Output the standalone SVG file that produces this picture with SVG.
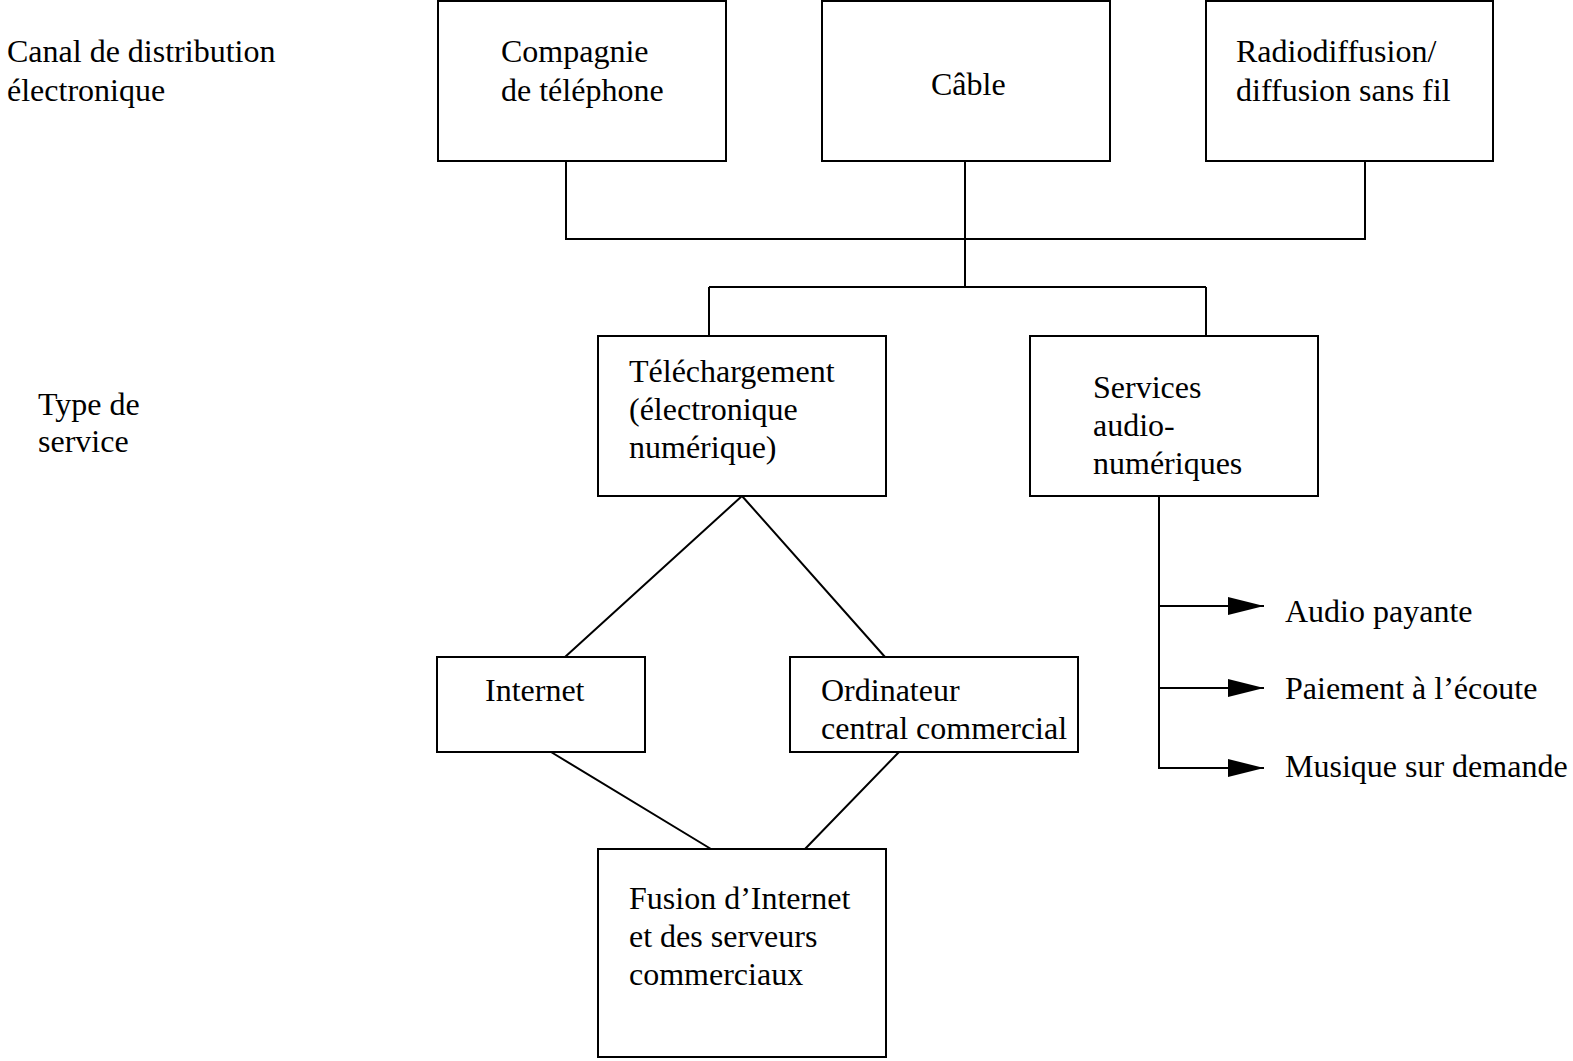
<svg xmlns="http://www.w3.org/2000/svg" width="1573" height="1061" viewBox="0 0 1573 1061">
<style>
.box{fill:#fff;stroke:#000;stroke-width:2}
.ln{fill:none;stroke:#000;stroke-width:2}
text{font-family:"Liberation Serif","Times New Roman",serif;font-size:32px;fill:#000}
</style>
<defs>
<marker id="ah" markerWidth="36" markerHeight="20" refX="36" refY="10" orient="auto" markerUnits="userSpaceOnUse">
<path d="M0,1 L36,10 L0,19 Z" fill="#000"/>
</marker>
</defs>
<rect width="1573" height="1061" fill="#fff"/>
<g id="labels">
<text x="7" y="62">Canal de distribution</text>
<text x="7" y="101">électronique</text>
<text x="38" y="415">Type de</text>
<text x="38" y="452">service</text>
</g>
<g id="connectors">
<path class="ln" d="M566,161 V240 M1365,161 V240 M566,239 H1365 M965,161 V288 M709,287 H1206 M709,287 V336 M1206,287 V336"/>
<path class="ln" d="M742,496 L565,657 M742,496 L885,657 M551,752 L711,849 M899,752 L805,849"/>
<path class="ln" d="M1159,496 V769"/>
<path class="ln" d="M1159,606 H1264" marker-end="url(#ah)"/>
<path class="ln" d="M1159,688 H1264" marker-end="url(#ah)"/>
<path class="ln" d="M1159,768 H1264" marker-end="url(#ah)"/>
</g>
<g id="node-compagnie">
<rect class="box" x="438" y="1" width="288" height="160"/>
<text x="501" y="62">Compagnie</text>
<text x="501" y="101">de téléphone</text>
</g>
<g id="node-cable">
<rect class="box" x="822" y="1" width="288" height="160"/>
<text x="931" y="95">Câble</text>
</g>
<g id="node-radio">
<rect class="box" x="1206" y="1" width="287" height="160"/>
<text x="1236" y="62">Radiodiffusion/</text>
<text x="1236" y="101">diffusion sans fil</text>
</g>
<g id="node-telechargement">
<rect class="box" x="598" y="336" width="288" height="160"/>
<text x="629" y="382">Téléchargement</text>
<text x="629" y="420">(électronique</text>
<text x="629" y="458">numérique)</text>
</g>
<g id="node-services">
<rect class="box" x="1030" y="336" width="288" height="160"/>
<text x="1093" y="398">Services</text>
<text x="1093" y="436">audio-</text>
<text x="1093" y="474">numériques</text>
</g>
<g id="node-internet">
<rect class="box" x="437" y="657" width="208" height="95"/>
<text x="485" y="701">Internet</text>
</g>
<g id="node-ordinateur">
<rect class="box" x="790" y="657" width="288" height="95"/>
<text x="821" y="701">Ordinateur</text>
<text x="821" y="739">central commercial</text>
</g>
<g id="node-fusion">
<rect class="box" x="598" y="849" width="288" height="208"/>
<text x="629" y="909">Fusion d’Internet</text>
<text x="629" y="947">et des serveurs</text>
<text x="629" y="985">commerciaux</text>
</g>
<g id="outputs">
<text x="1285" y="622">Audio payante</text>
<text x="1285" y="699">Paiement à l’écoute</text>
<text x="1285" y="777">Musique sur demande</text>
</g>
</svg>
